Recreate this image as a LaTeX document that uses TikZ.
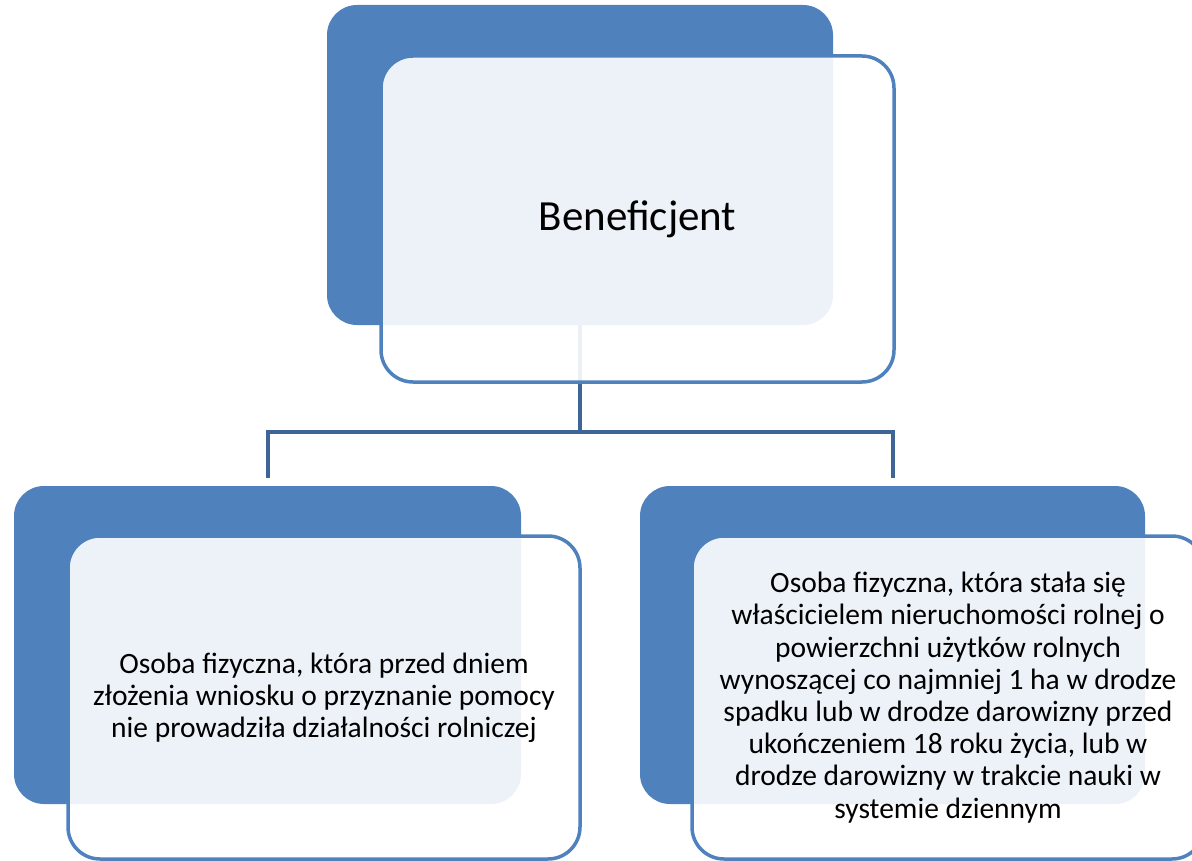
\documentclass[tikz,border=0pt]{standalone}
\usepackage{fontspec}
\setmainfont{Carlito}
\definecolor{darkbox}{HTML}{4F81BD}
\definecolor{conn}{HTML}{3F6596}
\begin{document}
\begin{tikzpicture}[x=1pt,y=-1pt,
  back/.style={fill=darkbox, draw=none, rounded corners=30pt, inner sep=0pt},
  front/.style={fill=white, fill opacity=0.9, text opacity=1, draw=darkbox, line width=3.5pt,
    rounded corners=32pt, inner sep=0pt, align=center, font=\fontsize{29.5}{32.2}\selectfont},
  link/.style={draw=conn, line width=4pt}]
\useasboundingbox (0,0) rectangle (1192,861);
% back boxes
\node[back, minimum width=506pt, minimum height=320pt] (topback) at (580,165) {};
\node[back, minimum width=507pt, minimum height=318pt] (leftback) at (267.5,645) {};
\node[back, minimum width=505pt, minimum height=318pt] (rightback) at (892.5,645) {};
% connectors
\coordinate (hub) at (580,432);
\draw[link] (topback.south) -- (hub);
\draw[link, shorten >=8pt] (hub) -| (leftback.north);
\draw[link, shorten >=8pt] (hub) -| (rightback.north);
% front boxes
\node[front, minimum width=513pt, minimum height=326pt, font=\fontsize{43}{50}\selectfont] (top) at (637.5,219) {Beneficjent};
\node[front, minimum width=512pt, minimum height=323pt] (left) at (324,697.5)
  {Osoba fizyczna, która przed dniem\\złożenia wniosku o przyznanie pomocy\\nie prowadziła działalności rolniczej};
\node[front, minimum width=512pt, minimum height=323pt] (right) at (948,697.5)
  {Osoba fizyczna, która stała się\\właścicielem nieruchomości rolnej o\\powierzchni użytków rolnych\\wynoszącej co najmniej 1 ha w drodze\\spadku lub w drodze darowizny przed\\ukończeniem 18 roku życia, lub w\\drodze darowizny w trakcie nauki w\\systemie dziennym};
\end{tikzpicture}
\end{document}
